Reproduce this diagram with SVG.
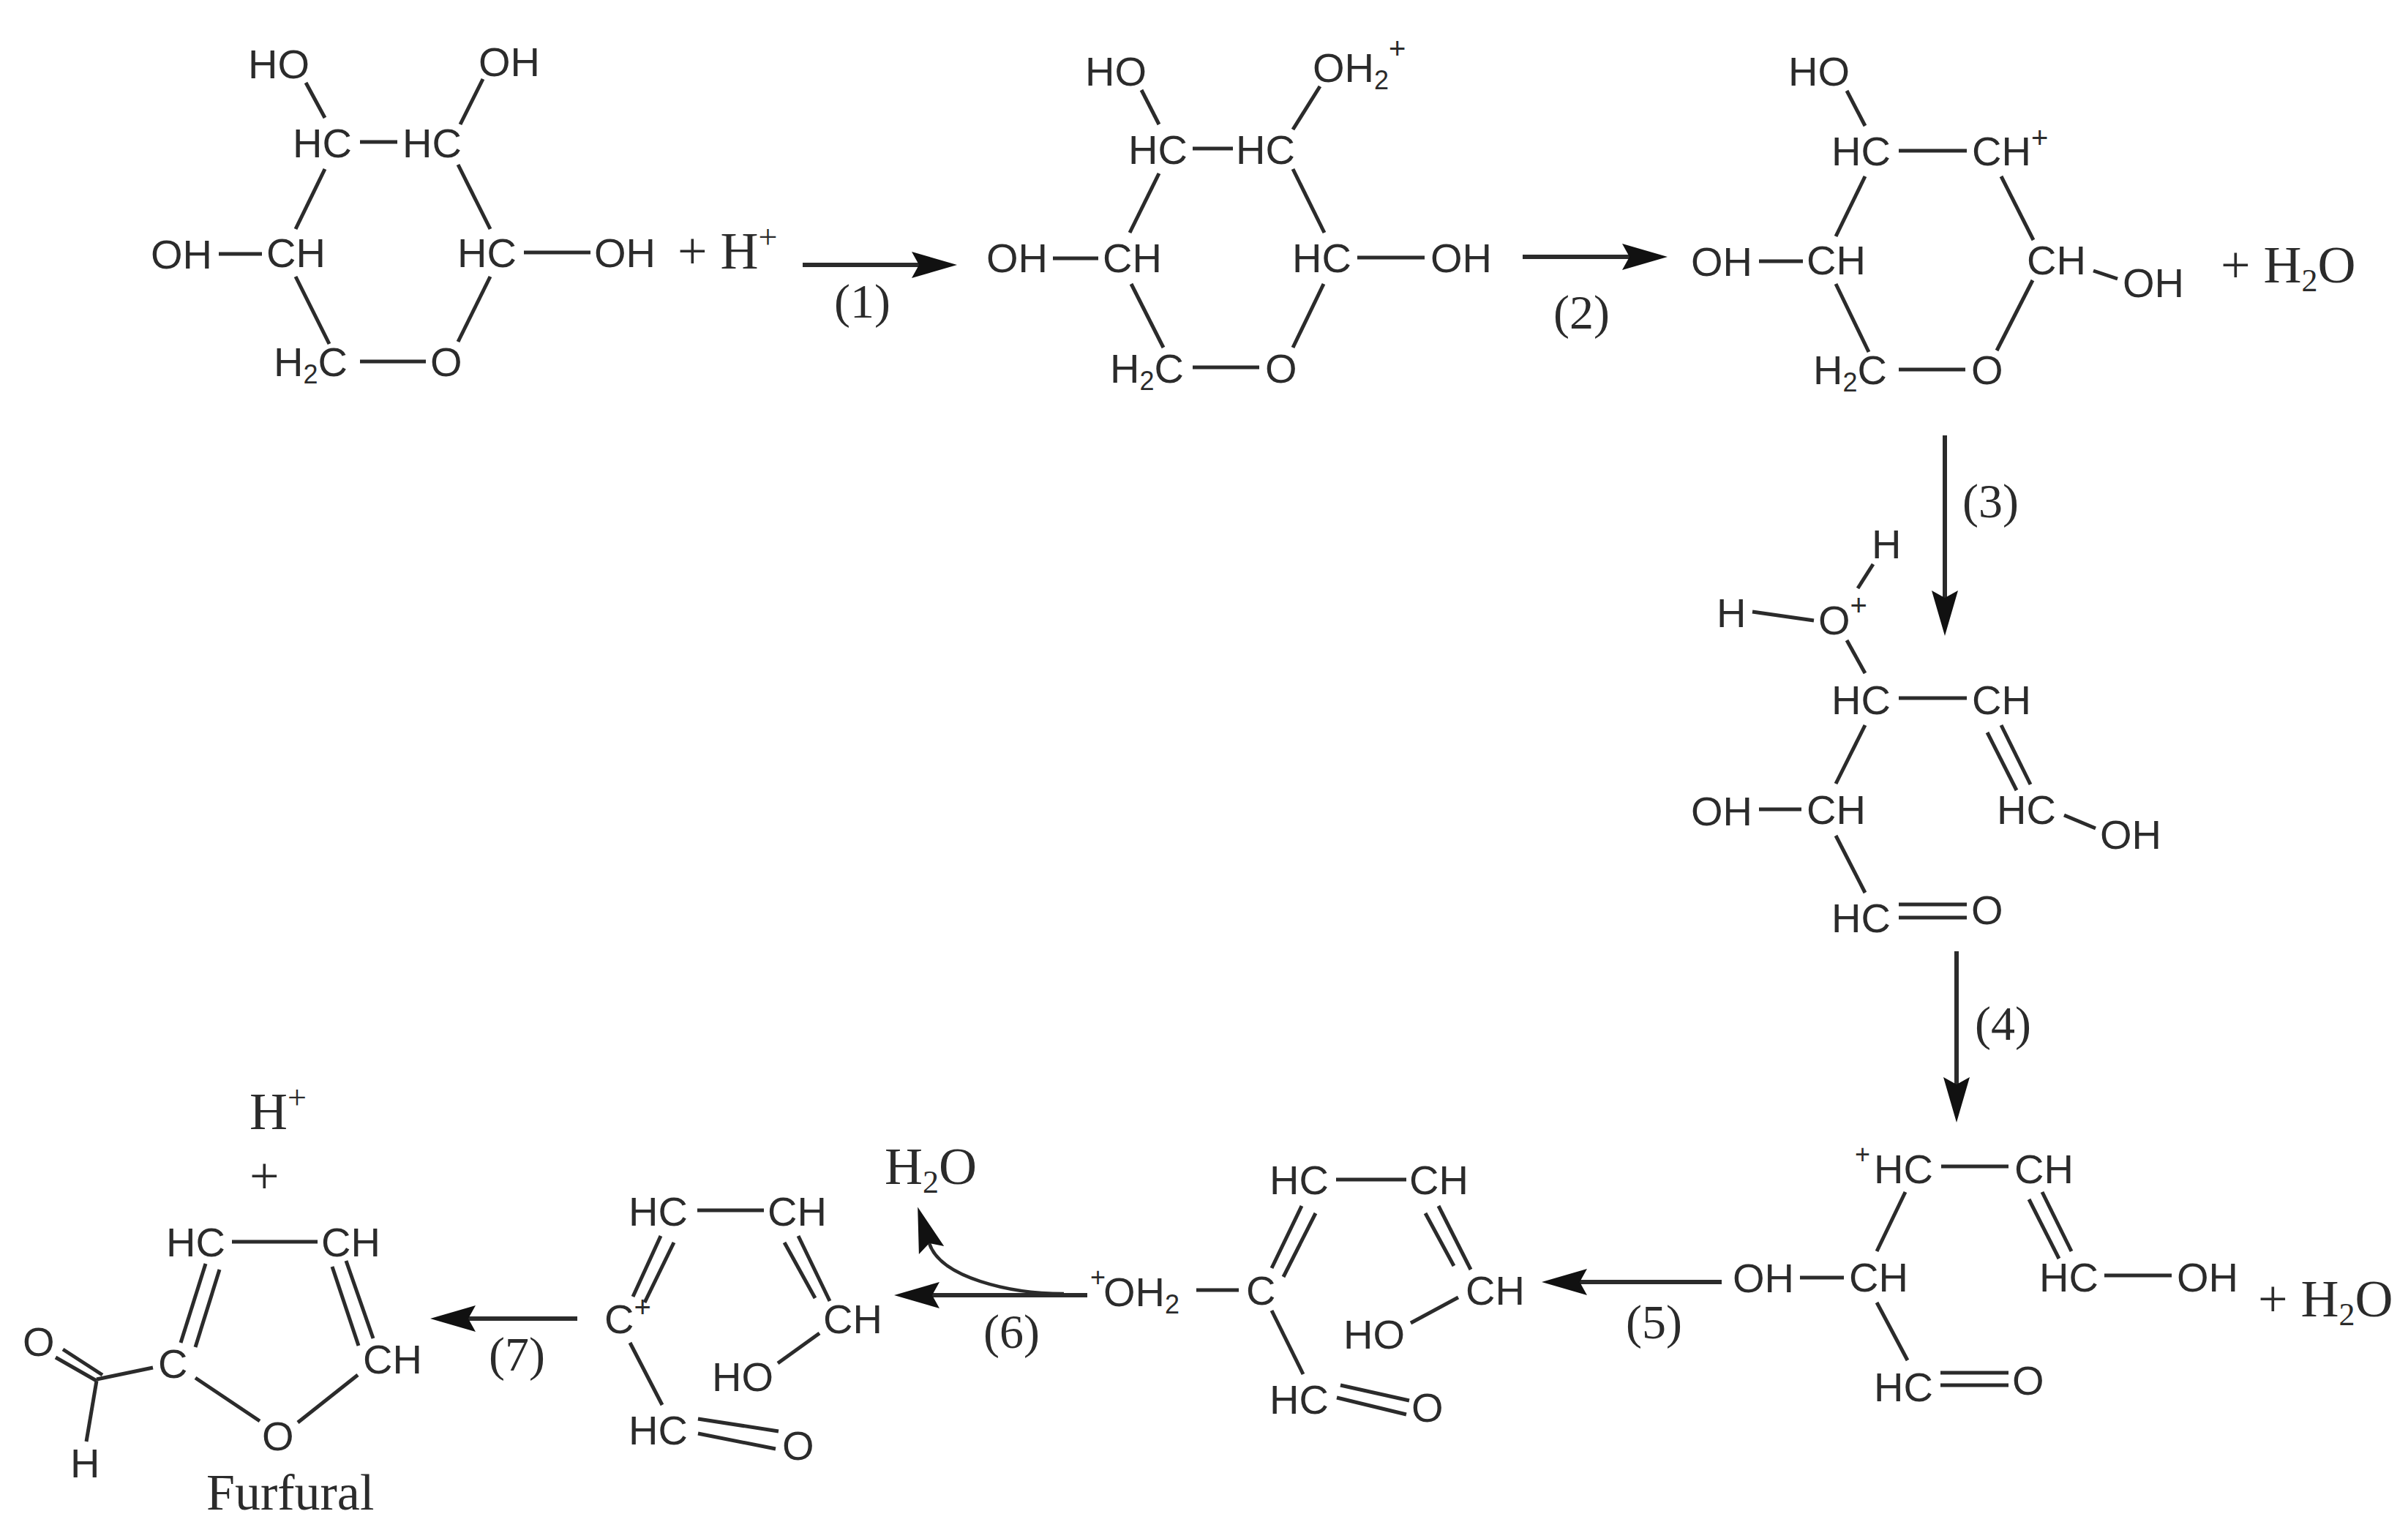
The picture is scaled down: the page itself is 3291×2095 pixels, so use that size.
<svg xmlns="http://www.w3.org/2000/svg" width="3291" height="2095" viewBox="0 0 3291 2095">
<style>
text{fill:#2b2b2b}
.a{font-family:"Liberation Sans",Arial,sans-serif;font-size:56px}
.p{font-family:"Liberation Sans",Arial,sans-serif;font-size:36px}
.r{font-family:"Liberation Serif","Times New Roman",serif;font-size:72px}
.n{font-family:"Liberation Serif","Times New Roman",serif;font-size:66px}
.f{font-family:"Liberation Serif","Times New Roman",serif;font-size:70px}
.b line{stroke:#2b2b2b;stroke-width:5;fill:none}
.c line,.c path{stroke:#2b2b2b;stroke-width:6;fill:none;marker-end:url(#h)}
</style>
<defs>
<marker id="h" markerUnits="userSpaceOnUse" markerWidth="66" markerHeight="38" refX="10" refY="18" orient="auto" overflow="visible">
<path d="M0 0L62 18L0 36L10 18z" fill="#111"/>
</marker>
</defs>
<rect width="3291" height="2095" fill="#fff"/>

<g id="connectors" class="c">
<line x1="1097" y1="362" x2="1256" y2="362"/>
<line x1="2081" y1="351" x2="2227" y2="351"/>
<line x1="2658" y1="595" x2="2658" y2="817"/>
<line x1="2674" y1="1300" x2="2674" y2="1482"/>
<line x1="2353" y1="1752" x2="2159" y2="1752"/>
<line x1="1486" y1="1770" x2="1274" y2="1770"/>
<path d="M1454 1768C1380 1768 1285 1746 1270 1699" style="stroke-width:4.5"/>
<line x1="789" y1="1802" x2="640" y2="1802"/>
</g>

<g id="molecule-1">
<g class="b">
<line x1="418" y1="113" x2="444" y2="161"/><line x1="660" y1="108" x2="629" y2="170"/>
<line x1="492" y1="194" x2="543" y2="194"/><line x1="444" y1="231" x2="404" y2="313"/>
<line x1="626" y1="225" x2="670" y2="313"/><line x1="299" y1="347" x2="358" y2="347"/>
<line x1="716" y1="345" x2="807" y2="345"/><line x1="404" y1="378" x2="450" y2="470"/>
<line x1="670" y1="378" x2="626" y2="467"/><line x1="492" y1="494" x2="582" y2="494"/>
</g>
<text class="a" x="339" y="107">HO</text><text class="a" x="654" y="104">OH</text>
<text class="a" x="400" y="215">HC</text><text class="a" x="550" y="215">HC</text>
<text class="a" x="206" y="367">OH</text><text class="a" x="364" y="365">CH</text>
<text class="a" x="625" y="365">HC</text><text class="a" x="812" y="365">OH</text>
<text class="a" x="374" y="514">H<tspan font-size="36" dy="10">2</tspan><tspan dy="-10">C</tspan></text>
<text class="a" x="588" y="514">O</text>
<text class="r" x="926" y="367">+ H<tspan font-size="46" dy="-28">+</tspan></text>
</g>

<g id="molecule-2">
<g class="b">
<line x1="1560" y1="123" x2="1584" y2="170"/><line x1="1804" y1="118" x2="1767" y2="177"/>
<line x1="1630" y1="203" x2="1685" y2="203"/><line x1="1584" y1="237" x2="1544" y2="318"/>
<line x1="1767" y1="231" x2="1810" y2="318"/><line x1="1439" y1="353" x2="1501" y2="353"/>
<line x1="1855" y1="352" x2="1947" y2="352"/><line x1="1546" y1="388" x2="1590" y2="475"/>
<line x1="1809" y1="388" x2="1767" y2="475"/><line x1="1630" y1="502" x2="1721" y2="502"/>
</g>
<text class="a" x="1483" y="117">HO</text>
<text class="a" x="1794" y="112">OH<tspan font-size="36" dy="10">2</tspan><tspan font-size="40" dy="-42">+</tspan></text>
<text class="a" x="1542" y="224">HC</text><text class="a" x="1689" y="224">HC</text>
<text class="a" x="1348" y="372">OH</text><text class="a" x="1507" y="372">CH</text>
<text class="a" x="1766" y="372">HC</text><text class="a" x="1955" y="372">OH</text>
<text class="a" x="1517" y="523">H<tspan font-size="36" dy="10">2</tspan><tspan dy="-10">C</tspan></text>
<text class="a" x="1729" y="523">O</text>
</g>

<g id="molecule-3">
<g class="b">
<line x1="2524" y1="124" x2="2549" y2="172"/><line x1="2595" y1="206" x2="2688" y2="206"/>
<line x1="2549" y1="241" x2="2509" y2="323"/><line x1="2735" y1="241" x2="2779" y2="328"/>
<line x1="2404" y1="357" x2="2464" y2="357"/><line x1="2861" y1="370" x2="2894" y2="381"/>
<line x1="2509" y1="388" x2="2554" y2="481"/><line x1="2778" y1="383" x2="2729" y2="479"/>
<line x1="2595" y1="505" x2="2686" y2="505"/>
</g>
<text class="a" x="2444" y="117">HO</text><text class="a" x="2503" y="226">HC</text>
<text class="a" x="2695" y="226">CH<tspan font-size="40" dy="-24">+</tspan></text>
<text class="a" x="2311" y="377">OH</text><text class="a" x="2469" y="375">CH</text>
<text class="a" x="2770" y="375">CH</text><text class="a" x="2901" y="406">OH</text>
<text class="a" x="2478" y="525">H<tspan font-size="36" dy="10">2</tspan><tspan dy="-10">C</tspan></text>
<text class="a" x="2694" y="525">O</text>
<text class="r" x="3035" y="386">+ H<tspan font-size="44" dy="12">2</tspan><tspan dy="-12">O</tspan></text>
</g>

<g id="molecule-4">
<g class="b">
<line x1="2560" y1="771" x2="2539" y2="804"/><line x1="2395" y1="836" x2="2479" y2="848"/>
<line x1="2524" y1="875" x2="2549" y2="920"/><line x1="2595" y1="954" x2="2688" y2="954"/>
<line x1="2549" y1="991" x2="2509" y2="1071"/>
<line x1="2735" y1="991" x2="2775" y2="1072"/><line x1="2716" y1="1001" x2="2756" y2="1080"/>
<line x1="2404" y1="1106" x2="2462" y2="1106"/><line x1="2821" y1="1114" x2="2864" y2="1132"/>
<line x1="2509" y1="1142" x2="2549" y2="1220"/>
<line x1="2595" y1="1236" x2="2688" y2="1236"/><line x1="2595" y1="1254" x2="2688" y2="1254"/>
</g>
<text class="a" x="2558" y="763">H</text><text class="a" x="2346" y="857">H</text>
<text class="a" x="2485" y="867">O<tspan font-size="40" dy="-26">+</tspan></text>
<text class="a" x="2503" y="976">HC</text><text class="a" x="2695" y="976">CH</text>
<text class="a" x="2311" y="1128">OH</text><text class="a" x="2469" y="1126">CH</text>
<text class="a" x="2729" y="1126">HC</text><text class="a" x="2870" y="1160">OH</text>
<text class="a" x="2503" y="1274">HC</text><text class="a" x="2694" y="1263">O</text>
</g>

<g id="molecule-5">
<g class="b">
<line x1="2653" y1="1594" x2="2745" y2="1594"/><line x1="2604" y1="1629" x2="2565" y2="1710"/>
<line x1="2791" y1="1629" x2="2831" y2="1710"/><line x1="2773" y1="1639" x2="2814" y2="1720"/>
<line x1="2460" y1="1746" x2="2520" y2="1746"/><line x1="2876" y1="1743" x2="2968" y2="1743"/>
<line x1="2565" y1="1780" x2="2607" y2="1859"/>
<line x1="2652" y1="1876" x2="2745" y2="1876"/><line x1="2652" y1="1893" x2="2745" y2="1893"/>
</g>
<text class="p" x="2535" y="1590">+</text>
<text class="a" x="2561" y="1617">HC</text><text class="a" x="2753" y="1617">CH</text>
<text class="a" x="2368" y="1766">OH</text><text class="a" x="2527" y="1765">CH</text>
<text class="a" x="2787" y="1765">HC</text><text class="a" x="2975" y="1765">OH</text>
<text class="a" x="2561" y="1915">HC</text><text class="a" x="2750" y="1906">O</text>
<text class="r" x="3086" y="1799">+ H<tspan font-size="44" dy="12">2</tspan><tspan dy="-12">O</tspan></text>
</g>

<g id="molecule-6">
<g class="b">
<line x1="1826" y1="1612" x2="1922" y2="1612"/>
<line x1="1779" y1="1648" x2="1738" y2="1733"/><line x1="1798" y1="1658" x2="1754" y2="1745"/>
<line x1="1966" y1="1648" x2="2010" y2="1735"/><line x1="1948" y1="1658" x2="1987" y2="1730"/>
<line x1="1635" y1="1763" x2="1693" y2="1763"/><line x1="1993" y1="1773" x2="1928" y2="1808"/>
<line x1="1738" y1="1791" x2="1781" y2="1878"/>
<line x1="1832" y1="1893" x2="1926" y2="1914"/><line x1="1827" y1="1910" x2="1922" y2="1933"/>
</g>
<text class="a" x="1735" y="1632">HC</text><text class="a" x="1926" y="1632">CH</text>
<text class="a" x="1490" y="1785"><tspan font-size="36" dy="-27">+</tspan><tspan dy="27" dx="-3">OH</tspan><tspan font-size="36" dy="10">2</tspan></text>
<text class="a" x="1703" y="1783">C</text><text class="a" x="2003" y="1783">CH</text>
<text class="a" x="1836" y="1843">HO</text>
<text class="a" x="1735" y="1932">HC</text><text class="a" x="1929" y="1943">O</text>
</g>

<g id="water">
<text class="r" x="1209" y="1618">H<tspan font-size="44" dy="12">2</tspan><tspan dy="-12">O</tspan></text>
</g>

<g id="molecule-7">
<g class="b">
<line x1="953" y1="1654" x2="1044" y2="1654"/>
<line x1="903" y1="1689" x2="865" y2="1772"/><line x1="921" y1="1698" x2="881" y2="1780"/>
<line x1="1091" y1="1689" x2="1134" y2="1778"/><line x1="1072" y1="1698" x2="1114" y2="1774"/>
<line x1="1120" y1="1822" x2="1063" y2="1863"/><line x1="861" y1="1835" x2="905" y2="1920"/>
<line x1="954" y1="1939" x2="1064" y2="1956"/><line x1="954" y1="1959" x2="1060" y2="1980"/>
</g>
<text class="a" x="859" y="1675">HC</text><text class="a" x="1049" y="1675">CH</text>
<text class="a" x="826" y="1822">C<tspan font-size="40" dy="-22">+</tspan></text>
<text class="a" x="1125" y="1822">CH</text><text class="a" x="973" y="1901">HO</text>
<text class="a" x="859" y="1974">HC</text><text class="a" x="1069" y="1995">O</text>
</g>

<g id="furfural">
<g class="b">
<line x1="317" y1="1697" x2="434" y2="1697"/>
<line x1="281" y1="1727" x2="247" y2="1835"/><line x1="300" y1="1735" x2="267" y2="1841"/>
<line x1="473" y1="1723" x2="510" y2="1829"/><line x1="454" y1="1731" x2="490" y2="1839"/>
<line x1="267" y1="1883" x2="355" y2="1942"/><line x1="489" y1="1879" x2="407" y2="1944"/>
<line x1="209" y1="1869" x2="132" y2="1885"/>
<line x1="86" y1="1844" x2="140" y2="1879"/><line x1="76" y1="1855" x2="132" y2="1887"/>
<line x1="132" y1="1887" x2="118" y2="1970"/>
</g>
<text class="a" x="227" y="1717">HC</text><text class="a" x="439" y="1717">CH</text>
<text class="a" x="496" y="1877">CH</text><text class="a" x="216" y="1883">C</text>
<text class="a" x="358" y="1982">O</text><text class="a" x="31" y="1853">O</text>
<text class="a" x="96" y="2019">H</text>
<text class="r" x="341" y="1543">H<tspan font-size="46" dy="-28">+</tspan></text>
<text class="r" x="341" y="1631">+</text>
<text class="f" x="282" y="2063">Furfural</text>
</g>

<g id="step-labels">
<text class="n" x="1140" y="434">(1)</text><text class="n" x="2123" y="449">(2)</text>
<text class="n" x="2682" y="707">(3)</text><text class="n" x="2699" y="1421">(4)</text>
<text class="n" x="2222" y="1829">(5)</text><text class="n" x="1344" y="1842">(6)</text>
<text class="n" x="668" y="1873">(7)</text>
</g>
</svg>
